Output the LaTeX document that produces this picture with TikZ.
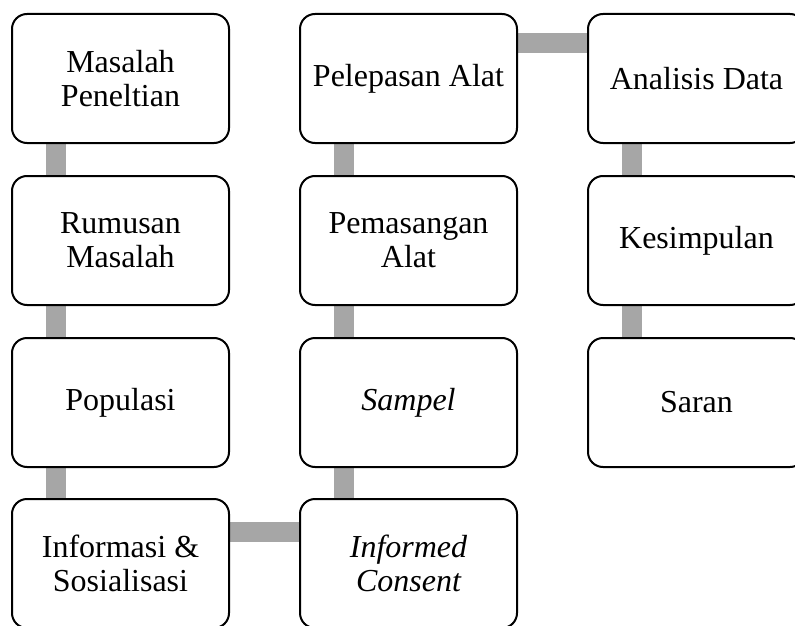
\documentclass[tikz,border=0pt]{standalone}
\usepackage{fontspec}
\setmainfont{Liberation Serif}
\usetikzlibrary{backgrounds}
\begin{document}
\begin{tikzpicture}[
    x = 1pt,
    y = 1pt,
    stage/.style = {draw, line width = 2pt, rounded corners = 15pt,
      fill = white, minimum width = 217pt, minimum height = 129pt,
      align = center, inner sep = 0pt,
      font = \rmfamily\fontsize{32}{34}\selectfont},
    link/.style = {line width = 20pt, color = gray!70},
    ]
    \useasboundingbox (0, 0) rectangle (795, -626);
    % first column
    \node[stage] (masalah)   at (120.5, -78.5)  {Masalah\\Peneltian};
    \node[stage] (rumusan)   at (120.5, -240.5) {Rumusan\\Masalah};
    \node[stage] (populasi)  at (120.5, -402.5) {Populasi};
    \node[stage] (informasi) at (120.5, -563.5) {Informasi \&\\Sosialisasi};
    % second column
    \node[stage] (consent)   at (408.5, -563.5) {\itshape Informed\\\itshape Consent};
    \node[stage] (sampel)    at (408.5, -402.5) {\itshape Sampel};
    \node[stage] (pasang)    at (408.5, -240.5) {Pemasangan\\Alat};
    \node[stage] (lepas)     at (408.5, -78.5)  {Pelepasan Alat};
    % third column
    \node[stage] (analisis)  at (696.5, -78.5)  {Analisis Data};
    \node[stage] (simpul)    at (696.5, -240.5) {Kesimpulan};
    \node[stage] (saran)     at (696.5, -402.5) {Saran};
    % links
    \begin{pgfonlayer}{background}
      \foreach \a/\b in {masalah/rumusan, rumusan/populasi, populasi/informasi,
        lepas/pasang, pasang/sampel, sampel/consent,
        analisis/simpul, simpul/saran}
      \draw[link] ([xshift = 45pt]\a.south west) -- ([xshift = 45pt]\b.north west);
      \draw[link] ([yshift = -33.5pt]informasi.north east) -- ([yshift = -33.5pt]consent.north west);
      \draw[link] ([yshift = -30pt]lepas.north east) -- ([yshift = -30pt]analisis.north west);
    \end{pgfonlayer}
  \end{tikzpicture}
\end{document}
